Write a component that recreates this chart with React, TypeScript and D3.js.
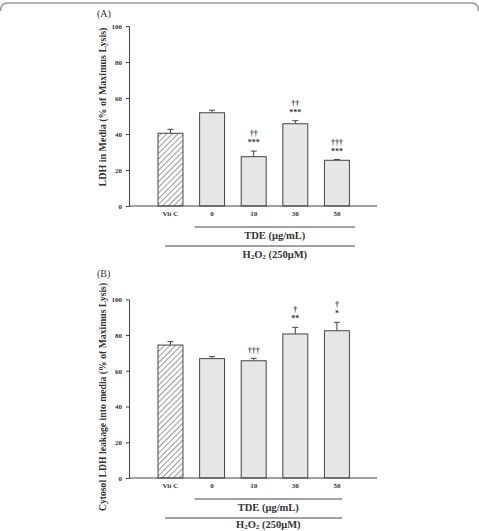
import { useEffect, useRef } from "react";
import * as d3 from "d3";

const categories = ["Vit C", "0", "10", "30", "50"];
const yTicks = [0, 20, 40, 60, 80, 100];

// panel A: LDH in media
const valuesA = [40.4, 51.8, 27.4, 45.7, 25.4];
const errA = [2.2, 1.4, 3.1, 1.7, 0.4];
const starsA = ["", "", "***", "***", "***"];
const daggersA = ["", "", "††", "††", "†††"];

// panel B: cytosol LDH leakage
const valuesB = [74.4, 66.8, 65.6, 80.6, 82.4];
const errB = [1.9, 1.1, 1.4, 3.7, 4.7];
const starsB = ["", "", "", "**", "*"];
const daggersB = ["", "", "†††", "†", "†"];

const FONT = "'Liberation Serif', 'Times New Roman', serif";
const INK = "#444";

type PanelProps = {
  label: string;
  labelY: number;
  title: string;
  titleSize: number;
  values: number[];
  errs: number[];
  stars: string[];
  daggers: string[];
  y0: number;
  y100: number;
  lineEnd: number;
  titleY: number;
  h2Y: number;
};

function Panel({ label, labelY, title, titleSize, values, errs, stars, daggers, y0, y100, lineEnd, titleY, h2Y }: PanelProps) {
  const axisRef = useRef<SVGGElement>(null);
  const x = d3.scaleBand<string>().domain(categories).range([158, 349.4]).paddingInner(0.4).paddingOuter(0);
  const y = d3.scaleLinear().domain([0, 100]).range([y0, y100]);
  const axisX = 129;

  useEffect(() => {
    const g = d3.select(axisRef.current);
    g.call(d3.axisLeft(y).tickValues(yTicks).tickSize(3).tickSizeOuter(0).tickPadding(4));
    g.select(".domain").attr("stroke", INK);
    g.selectAll(".tick line").attr("stroke", INK);
    g.selectAll(".tick text")
      .attr("font-family", FONT)
      .attr("font-size", 7)
      .attr("font-weight", "bold")
      .attr("fill", "#333");
  });

  const bw = x.bandwidth();
  const cx = (c: string) => (x(c) as number) + bw / 2;
  const tdeStart = x("0")! - 5;
  const h2Start = x("Vit C")! + 7;

  return (
    <g>
      <text x={97} y={labelY} fontFamily={FONT} fontSize={10} fill="#333">{label}</text>
      <text
        transform={`translate(106,${titleY}) rotate(-90)`}
        textAnchor="middle"
        fontFamily={FONT}
        fontSize={titleSize}
        fontWeight="bold"
        fill="#333"
      >
        {title}
      </text>
      {categories.map((c, i) => {
        const top = y(values[i]);
        const et = y(values[i] + errs[i]);
        return (
          <g key={c}>
            <line x1={cx(c)} x2={cx(c)} y1={top} y2={et} stroke={INK} />
            <line x1={cx(c) - 3} x2={cx(c) + 3} y1={et} y2={et} stroke={INK} />
            <rect
              x={x(c)}
              y={top}
              width={bw}
              height={y0 - top}
              fill={i === 0 ? "url(#hatch)" : "#e6e6e6"}
              stroke={INK}
              strokeWidth={1}
            />
            {stars[i] && (
              <text x={cx(c)} y={et - 6} textAnchor="middle" fontFamily={FONT} fontSize={8} fontWeight="bold" fill="#333">
                {stars[i]}
              </text>
            )}
            {daggers[i] && (
              <text
                x={cx(c)}
                y={et - (stars[i] ? 15 : 5)}
                textAnchor="middle"
                fontFamily={FONT}
                fontSize={8}
                fontWeight="bold"
                fill="#333"
              >
                {daggers[i]}
              </text>
            )}
            <text x={cx(c)} y={y0 + 10} textAnchor="middle" fontFamily={FONT} fontSize={7} fontWeight="bold" fill="#333">
              {c}
            </text>
          </g>
        );
      })}
      <g ref={axisRef} transform={`translate(${axisX},0)`} />
      <line x1={axisX} x2={377} y1={y0} y2={y0} stroke={INK} />
      <line x1={tdeStart} x2={lineEnd} y1={y0 + 21} y2={y0 + 21} stroke={INK} />
      <text
        x={(tdeStart + lineEnd) / 2}
        y={y0 + 32.5}
        textAnchor="middle"
        fontFamily={FONT}
        fontSize={10.5}
        fontWeight="bold"
        fill="#333"
      >
        TDE (μg/mL)
      </text>
      <line x1={h2Start} x2={lineEnd} y1={y0 + 40} y2={y0 + 40} stroke={INK} />
      <text
        x={(tdeStart + lineEnd) / 2}
        y={h2Y}
        textAnchor="middle"
        fontFamily={FONT}
        fontSize={10.5}
        fontWeight="bold"
        fill="#333"
      >
        H<tspan fontSize={7} dy={1.5}>2</tspan>
        <tspan dy={-1.5}>O</tspan>
        <tspan fontSize={7} dy={1.5}>2</tspan>
        <tspan dy={-1.5}> (250μM)</tspan>
      </text>
    </g>
  );
}

export default function App() {
  return (
    <svg
      width={479}
      height={531}
      style={{ position: "absolute", left: 0, top: 0, background: "#fff" }}
    >
      <defs>
        <pattern id="hatch" patternUnits="userSpaceOnUse" width={4} height={4} patternTransform="rotate(45)">
          <rect width={4} height={4} fill="#fff" />
          <line x1={0} y1={0} x2={0} y2={4} stroke="#333" strokeWidth={1} />
        </pattern>
      </defs>
      <path d="M0.5,11 Q0.5,3 8,3 L471,3 Q478.5,3 478.5,11" fill="none" stroke="#999" strokeWidth={1.5} />
      <Panel
        label="(A)"
        labelY={17}
        title="LDH in Media (% of Maximus Lysis)"
        titleSize={10}
        values={valuesA}
        errs={errA}
        stars={starsA}
        daggers={daggersA}
        y0={206}
        y100={26}
        lineEnd={355}
        titleY={107}
        h2Y={257.5}
      />
      <Panel
        label="(B)"
        labelY={277}
        title="Cytosol LDH leakage into media (% of Maximus Lysis)"
        titleSize={9.7}
        values={valuesB}
        errs={errB}
        stars={starsB}
        daggers={daggersB}
        y0={478}
        y100={299.3}
        lineEnd={342}
        titleY={397}
        h2Y={527.5}
      />
    </svg>
  );
}
